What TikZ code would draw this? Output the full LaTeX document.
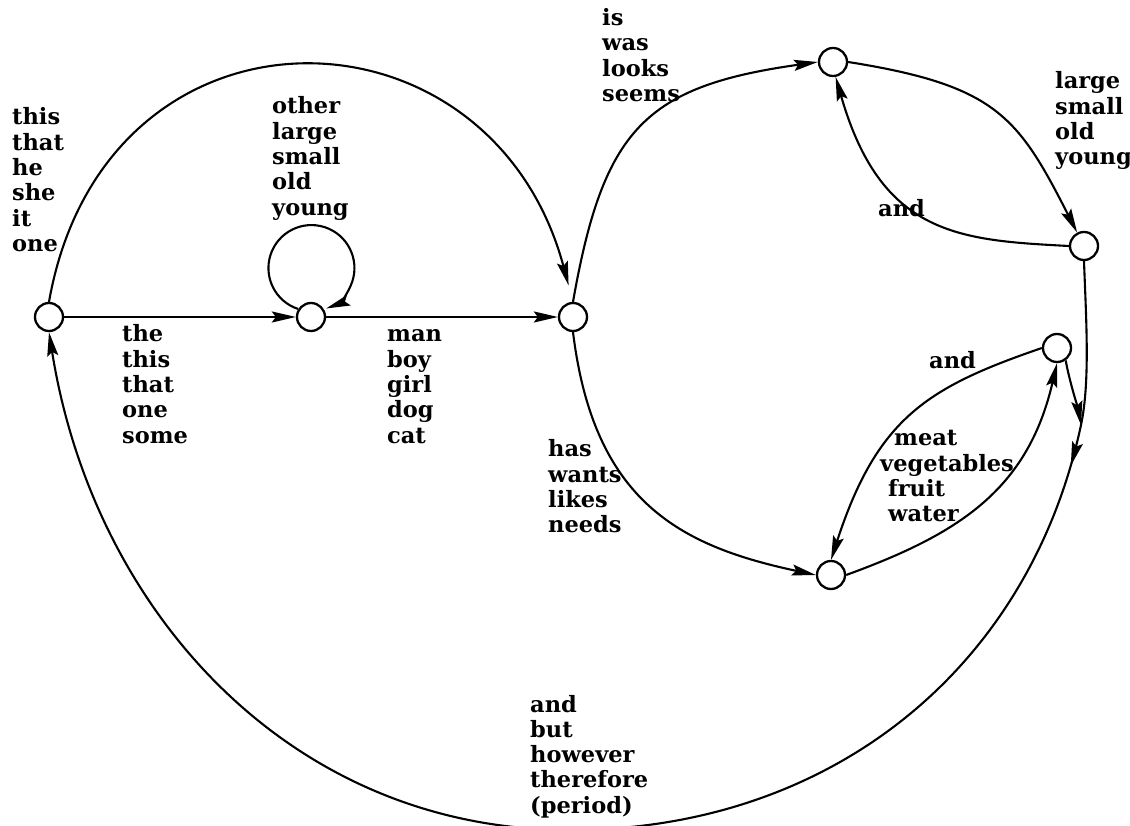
\documentclass[tikz,border=0pt]{standalone}
\usepackage{fontspec}
\setmainfont{DejaVu Serif}
\usetikzlibrary{arrows.meta,decorations.markings}
\begin{document}
\begin{tikzpicture}[x=1pt,y=1pt,
  state/.style={circle,draw,line width=2.3pt,minimum size=28pt,inner sep=0pt,fill=white},
  conn/.style={line width=2.1pt},
  tip/.tip={Stealth[length=24pt,width=11pt,inset=4pt]},
  arr/.style={conn,-tip},
  lbl/.style={font=\fontsize{22.5}{25.3}\selectfont\bfseries,align=left,inner sep=0pt,anchor=base west},
]
\useasboundingbox (0,0) rectangle (1130,825);
\clip (0,0) rectangle (1130,825);

% states
\node[state] (A) at (49,508) {};
\node[state] (B) at (311,508) {};
\node[state] (C) at (573,508) {};
\node[state] (D) at (833,763) {};
\node[state] (E) at (1084,579) {};
\node[state] (F) at (1057,477) {};
\node[state] (G) at (831,250) {};
\coordinate (M) at (1081,400);
\coordinate (Bt) at (570,-5);

% connectors
\draw[arr] (A) -- (B);
\draw[arr] (B.148) arc[start angle=252, end angle=-70, radius=43];
\draw[arr] (B) -- (C);
\draw[arr, shorten >=17pt] (A.north) .. controls +(80:320) and +(105:320) .. (C.north);
\draw[arr] (C.north) .. controls +(80:175) and +(188:175) .. (D.west);
\draw[arr] (D.east) .. controls +(-9:150) and +(117:130) .. (E.117);
\draw[arr] (E.west) .. controls +(177:110) and +(-74:165) .. (D.-80);
\draw[arr] (C.south) .. controls +(-83:170) and +(168:140) .. (G.west);
\draw[arr] (G.east) .. controls +(20:120) and +(-103:130) .. (F.south);
\draw[arr] (F.west) .. controls +(199:120) and +(72:150) .. (G.north);
\draw[conn] (E.south) .. controls +(-88:55) and +(78:45) .. (M);
\draw[arr] (F.-55) .. controls +(-80:20) and +(100:15) .. (M);
\draw[arr, postaction={decorate},
  decoration={markings, mark=at position 42pt with {\arrow{tip}}}]
  (M) .. controls +(-102:250) and +(0:260) .. (Bt)
      .. controls +(180:281) and +(-81:281) .. (A.south);

% labels (anchor = baseline of the last line)
\node[lbl] (l1) at (12,573.5) {this\\that\\he\\she\\it\\one};
\node[lbl] (l2) at (122,381.8) {the\\this\\that\\one\\some};
\node[lbl] (l3) at (272,609.8) {other\\large\\small\\old\\young};
\node[lbl] (l4) at (387,381.8) {man\\boy\\girl\\dog\\cat};
\node[lbl] (l5) at (602,723.6) {is\\was\\looks\\seems};
\node[lbl] (l6) at (1055,660.1) {large\\small\\old\\young};
\node[lbl] (l7) at (878,608) {and};
\node[lbl] (l8) at (548,292.1) {has\\wants\\likes\\needs};
\node[lbl] (l9) at (929,456) {and};
\node[lbl] (l10) at (880,303.1) {\hspace*{14pt}meat\\vegetables\\\hspace*{8pt}fruit\\\hspace*{8pt}water};
\node[lbl] (l11) at (530,11.8) {and\\but\\however\\therefore\\(period)};
\end{tikzpicture}
\end{document}
